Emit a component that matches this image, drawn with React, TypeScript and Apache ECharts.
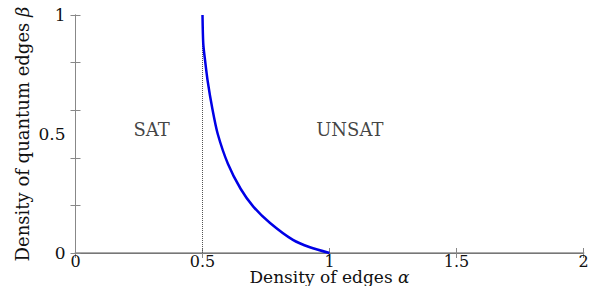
import React, { useEffect, useRef } from "react";
import * as echarts from "echarts";

// Boundary curve
const alpha = [0.5, 0.503, 0.51, 0.52, 0.539, 0.56, 0.6, 0.65, 0.7, 0.766, 0.856, 0.923, 1.0];
const beta = [1.0, 0.88, 0.81, 0.725, 0.605, 0.5, 0.375, 0.27, 0.195, 0.126, 0.055, 0.024, 0.0];

// Dotted threshold line at alpha = 0.5
const thresholdAlpha = [0.5, 0.5];
const thresholdBeta = [0, 1];

// Region labels
const regionNames = ["SAT", "UNSAT"];
const regionAlpha = [0.3, 1.08];
const regionBeta = [0.52, 0.52];

const FONT = "DejaVu Serif";

export default function App() {
  const ref = useRef<HTMLDivElement>(null);
  useEffect(() => {
    if (!ref.current) return;
    const chart = echarts.init(ref.current, undefined, { renderer: "svg" });
    const gridBox = {
      left: 75.5,
      right: 17.5,
      top: 15,
      bottom: 33,
      containLabel: false,
      outerBoundsMode: "none",
    };
    const tickStyle = { color: "#888", width: 1 };
    chart.setOption({
      animation: false,
      backgroundColor: "#fff",
      textStyle: { fontFamily: FONT },
      grid: [{ ...gridBox }, { ...gridBox }],
      xAxis: [
        {
          gridIndex: 0,
          type: "value",
          min: 0,
          max: 2,
          interval: 0.5,
          position: "bottom",
          axisLine: { show: true, lineStyle: { color: "#aaa", width: 2 } },
          axisTick: { show: true, inside: true, length: 5, lineStyle: tickStyle },
          axisLabel: {
            show: true,
            fontFamily: FONT,
            fontSize: 16,
            lineHeight: 15,
            color: "#111",
            margin: 1,
          },
          splitLine: { show: false },
          name: "Density of edges {i|α}",
          nameLocation: "middle",
          nameGap: 16,
          nameMoveOverlap: false,
          nameTextStyle: {
            fontFamily: FONT,
            fontSize: 17,
            lineHeight: 16,
            color: "#111",
            rich: {
              i: { fontFamily: FONT, fontSize: 17, lineHeight: 16, fontStyle: "italic", color: "#111" },
            },
          },
        },
        {
          gridIndex: 0,
          type: "value",
          min: 0,
          max: 2,
          interval: 0.5,
          position: "top",
          axisLine: { show: true, lineStyle: { color: "#777", width: 1 } },
          axisTick: { show: true, inside: true, length: 5, lineStyle: tickStyle },
          axisLabel: { show: false },
          splitLine: { show: false },
        },
        { gridIndex: 1, type: "value", min: 0, max: 2, show: false },
      ],
      yAxis: [
        {
          gridIndex: 0,
          type: "value",
          min: 0,
          max: 1,
          interval: 0.2,
          position: "left",
          axisLine: { show: true, lineStyle: { color: "#888", width: 1 } },
          axisTick: { show: true, inside: true, length: 5, lineStyle: tickStyle },
          axisLabel: { show: false },
          splitLine: { show: false },
        },
        {
          gridIndex: 0,
          type: "value",
          min: 0,
          max: 1,
          interval: 0.2,
          position: "right",
          axisLine: { show: true, lineStyle: { color: "#888", width: 1 } },
          axisTick: { show: true, inside: true, length: 5, lineStyle: tickStyle },
          axisLabel: { show: false },
          splitLine: { show: false },
        },
        {
          gridIndex: 1,
          type: "value",
          min: 0,
          max: 1,
          interval: 0.5,
          position: "left",
          axisLine: { show: false },
          axisTick: { show: false },
          axisLabel: { show: true, fontFamily: FONT, fontSize: 17, color: "#111", margin: 10 },
          splitLine: { show: false },
          name: "Density of quantum edges {i|β}",
          nameLocation: "middle",
          nameGap: 44,
          nameRotate: 90,
          nameMoveOverlap: false,
          nameTextStyle: {
            fontFamily: FONT,
            fontSize: 18,
            color: "#111",
            rich: { i: { fontFamily: FONT, fontSize: 18, fontStyle: "italic", color: "#111" } },
          },
        },
      ],
      series: [
        {
          type: "line",
          xAxisIndex: 0,
          yAxisIndex: 0,
          data: thresholdAlpha.map((a, i) => [a, thresholdBeta[i]]),
          showSymbol: false,
          lineStyle: { color: "#555", width: 1, type: [1, 1] },
          z: 1,
        },
        {
          type: "line",
          xAxisIndex: 0,
          yAxisIndex: 0,
          data: alpha.map((a, i) => [a, beta[i]]),
          showSymbol: false,
          smooth: 0.25,
          lineStyle: { color: "#0000e6", width: 2.5 },
          z: 3,
        },
        {
          type: "scatter",
          xAxisIndex: 0,
          yAxisIndex: 0,
          symbolSize: 0,
          data: regionNames.map((n, i) => ({ value: [regionAlpha[i], regionBeta[i]], name: n })),
          label: {
            show: true,
            position: "inside",
            formatter: (p: any) => p.name,
            fontFamily: FONT,
            fontSize: 18,
            color: "#111",
          },
          z: 4,
        },
      ],
    });
    return () => chart.dispose();
  }, []);
  return (
    <div
      ref={ref}
      style={{ position: "fixed", left: 0, top: 0, width: 601, height: 286 }}
    />
  );
}
